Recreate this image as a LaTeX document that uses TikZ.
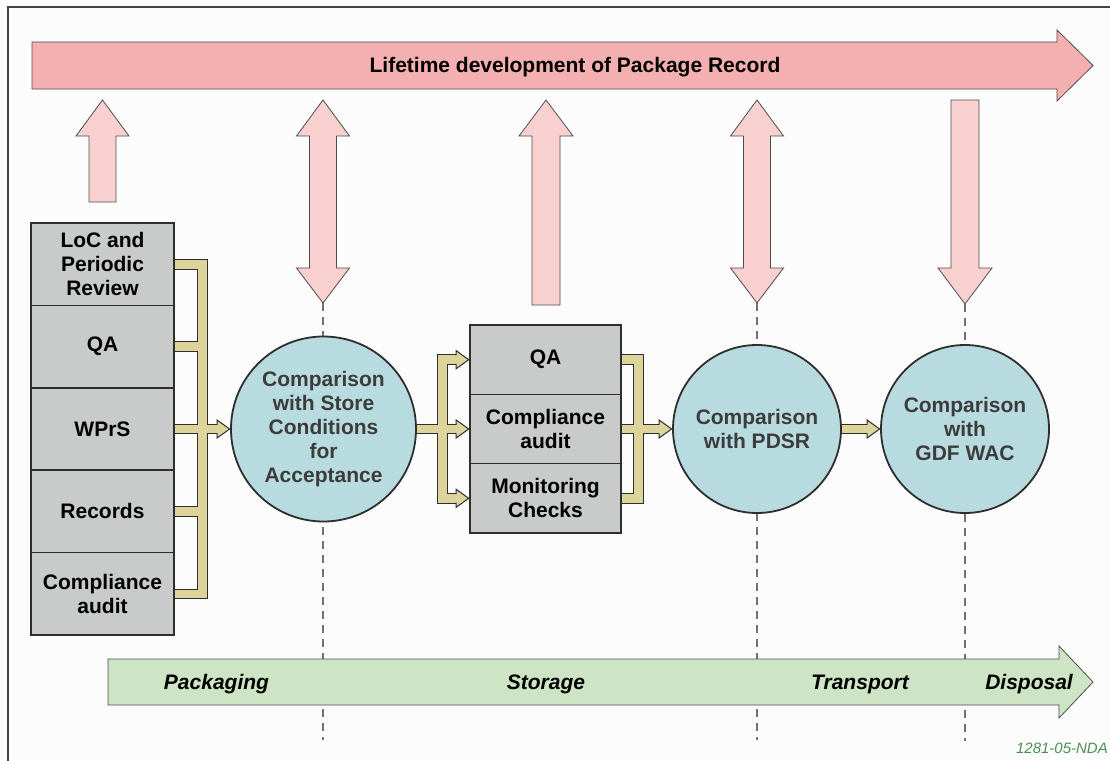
\documentclass[tikz,border=0pt]{standalone}
\usepackage{fontspec}
\setmainfont{Liberation Sans}
\usetikzlibrary{calc}
\definecolor{bord}{HTML}{2E2E2E}
\definecolor{pinkA}{HTML}{F4B0B0}
\definecolor{pinkB}{HTML}{F9D0D0}
\definecolor{boxg}{HTML}{C9CACA}
\definecolor{circb}{HTML}{B8DBDF}
\definecolor{tanc}{HTML}{DCD49B}
\definecolor{greenA}{HTML}{CDE5C5}
\definecolor{txtg}{HTML}{3C3C3C}
\definecolor{wmc}{HTML}{4E8E55}
\definecolor{dashc}{HTML}{707070}
\definecolor{bgc}{HTML}{FCFCFC}
\newcommand\tanhead[1]{%
  \fill[tanc,shift={(#1)}] (0,-9) -- (12.5,0) -- (0,9) -- cycle;
  \draw[bord,line width=1,line join=miter,shift={(#1)}] (0,-4.25) -- (0,-9) -- (12.5,0) -- (0,9) -- (0,4.25);}
\begin{document}
\begin{tikzpicture}[x=1pt,y=-1pt,
  every node/.style={font=\fontsize{21}{24}\selectfont\bfseries, inner sep=0pt, align=center},
  stackbox/.style={draw=bord, line width=1.6, fill=boxg, minimum width=143, minimum height=82.4, text=black},
  midbox/.style={draw=bord, line width=1.6, fill=boxg, minimum width=151, minimum height=69.33, text=black},
  compcirc/.style={circle, draw=bord, line width=1.8, fill=circb, text=txtg},
  pinkarr/.style={draw=bord!85, line width=0.8, fill=pinkB, line join=miter},
  bigarr/.style={draw=bord!85, line width=0.8, fill=pinkA, line join=miter},
  greenarr/.style={draw=bord!85, line width=0.8, fill=greenA, line join=miter},
  bandout/.style={draw=bord, line width=10.6, line join=miter},
  bandin/.style={draw=tanc, line width=8.6, line join=miter},
  phase/.style={font=\fontsize{21}{24}\selectfont\bfseries\itshape, anchor=base},
  dashln/.style={draw=dashc, line width=1.2, dash pattern=on 8 off 6}
]
\useasboundingbox[fill=bgc] (0,0) rectangle (1110,760);
\draw[bord!90, line width=1.4] (8,780) -- (8,7) -- (1130,7);

% dashed guide lines
\coordinate (d1) at (323,303);
\coordinate (d2) at (757,303);
\coordinate (d3) at (965,304);
\foreach \d in {d1,d2,d3} {\draw[dashln] (\d) -- ++(0,437);}

% main lifetime arrow
\draw[bigarr] (32,42) -- (1057,42) -- (1057,30) -- (1093,65.5) -- (1057,101) -- (1057,89) -- (32,89) -- cycle;
\node[text=black, anchor=base] (life) at (575,72) {Lifetime development of Package Record};

% pink arrows
\draw[pinkarr] (102.5,100) -- (129,136) -- (116,136) -- (116,202) -- (89,202) -- (89,136) -- (76,136) -- cycle;
\foreach \cx in {323,757} {
  \draw[pinkarr] (\cx,100) -- (\cx+26.5,136) -- (\cx+13.5,136) -- (\cx+13.5,268) -- (\cx+26.5,268) -- (\cx,303)
     -- (\cx-26.5,268) -- (\cx-13.5,268) -- (\cx-13.5,136) -- (\cx-26.5,136) -- cycle;}
\draw[pinkarr] (546,100) -- (573,136) -- (560,136) -- (560,305) -- (532,305) -- (532,136) -- (519,136) -- cycle;
\draw[pinkarr] (951,100) -- (979,100) -- (979,268) -- (992,268) -- (965,304) -- (938,268) -- (951,268) -- cycle;

% green phase arrow
\draw[greenarr] (108,659) -- (1059,659) -- (1059,646) -- (1093,682) -- (1059,718) -- (1059,705) -- (108,705) -- cycle;
\node[phase] (p1) at (216.5,689) {Packaging};
\node[phase] (p2) at (546,689) {Storage};
\node[phase] (p3) at (860,689) {Transport};
\node[phase] (p4) at (1029,689) {Disposal};

% left stack
\node[stackbox] (L1) at (102.5,264.2) {LoC and\\Periodic\\Review};
\node[stackbox] (L2) at (102.5,346.6) {QA};
\node[stackbox] (L3) at (102.5,429) {WPrS};
\node[stackbox] (L4) at (102.5,511.4) {Records};
\node[stackbox] (L5) at (102.5,593.8) {Compliance\\audit};

% circles
\node[compcirc, minimum size=185] (C1) at (323.5,429) {Comparison\\with Store\\Conditions\\for\\Acceptance};
\node[compcirc, minimum size=168] (C2) at (757,429) {Comparison\\with PDSR};
\node[compcirc, minimum size=168] (C3) at (965,429) {Comparison\\with\\GDF WAC};

% middle stack
\node[midbox] (M1) at (545.5,359.7) {QA};
\node[midbox] (M2) at (545.5,429) {Compliance\\audit};
\node[midbox] (M3) at (545.5,498.3) {Monitoring\\Checks};

% head base coordinates
\coordinate (h1) at ($(C1.west)+(-13,0)$);
\coordinate (h2) at ($(M1.west)+(-13,0)$);
\coordinate (h3) at ($(M2.west)+(-13,0)$);
\coordinate (h4) at ($(M3.west)+(-13,0)$);
\coordinate (h5) at ($(C2.west)+(-13,0)$);
\coordinate (h6) at ($(C3.west)+(-13,0)$);

% bands (outline then fill)
\foreach \st in {bandout,bandin} {
  \draw[\st] (L1.east) -- ++(27.5,0) |- (L5.east);
  \draw[\st] (L2.east) -- ++(27.5,0);
  \draw[\st] (L4.east) -- ++(27.5,0);
  \draw[\st] (L3.east) -- (h1);
  \draw[\st] (h2) -- ++(-13.5,0) |- (h4);
  \draw[\st] (C1.east) -- (h3);
  \draw[\st] (M1.east) -- ++(16.5,0) |- (M3.east);
  \draw[\st] (M2.east) -- (h5);
  \draw[\st] (C2.east) -- (h6);
}
\foreach \h in {h1,h2,h3,h4,h5,h6} {\tanhead{\h}}

% figure id
\node[font=\fontsize{15}{18}\selectfont\itshape, text=wmc, anchor=base east] (fid) at (1108,753) {1281-05-NDA};
\end{tikzpicture}
\end{document}
